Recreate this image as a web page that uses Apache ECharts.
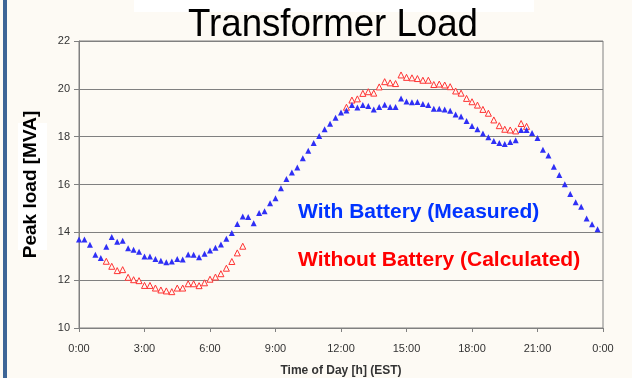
<!DOCTYPE html>
<html>
<head>
<meta charset="utf-8">
<title>Transformer Load</title>
<script src="https://cdn.jsdelivr.net/npm/echarts@6/dist/echarts.min.js"></script>
<style>
  html, body { margin: 0; padding: 0; background: #fdfaf4; }
  #chart { width: 632px; height: 378px; }
</style>
</head>
<body>
<div id="chart"></div>
<script>
// Quarter-hour samples over one day, 0:00 .. 23:45
const sampleStepHours = 0.25;

// Measured peak load with the battery in service [MVA]
const withBattery = [
  13.70, 13.70, 13.48, 13.06, 12.93, 13.40, 13.80, 13.61,
  13.65, 13.33, 13.27, 13.19, 12.99, 12.99, 12.88, 12.81,
  12.75, 12.78, 12.89, 12.86, 13.07, 13.06, 12.96, 13.10,
  13.24, 13.36, 13.49, 13.73, 13.97, 14.35, 14.66, 14.64,
  14.38, 14.81, 14.88, 15.22, 15.43, 15.84, 16.23, 16.50,
  16.71, 17.10, 17.41, 17.73, 18.03, 18.31, 18.54, 18.79,
  19.01, 19.09, 19.32, 19.22, 19.32, 19.28, 19.14, 19.24,
  19.33, 19.24, 19.24, 19.60, 19.47, 19.44, 19.45, 19.37,
  19.32, 19.17, 19.17, 19.14, 19.08, 18.93, 18.84, 18.65,
  18.45, 18.31, 18.13, 17.98, 17.82, 17.73, 17.69, 17.78,
  17.85, 18.28, 18.28, 18.15, 17.94, 17.45, 17.21, 16.74,
  16.40, 16.01, 15.60, 15.26, 15.07, 14.58, 14.34, 14.13
];

// Calculated load without the battery [MVA]; null where it coincides with the measured load
const withoutBattery = [
  null, null, null, null, null, 12.79, 12.58, 12.40,
  12.44, 12.12, 12.02, 11.98, 11.78, 11.78, 11.67, 11.59,
  11.55, 11.52, 11.67, 11.67, 11.85, 11.85, 11.77, 11.89,
  12.04, 12.13, 12.27, 12.50, 12.78, 13.14, 13.42, null,
  null, null, null, null, null, null, null, null,
  null, null, null, null, null, null, null, null,
  null, 19.23, 19.53, 19.58, 19.81, 19.88, 19.82, 20.08,
  20.30, 20.25, 20.22, 20.58, 20.48, 20.46, 20.43, 20.36,
  20.36, 20.18, 20.20, 20.16, 20.09, 19.91, 19.82, 19.60,
  19.46, 19.32, 19.14, 18.98, 18.70, 18.46, 18.31, 18.28,
  18.24, 18.55, 18.43, null, null, null, null, null,
  null, null, null, null, null, null, null, null
];

// Axis ticks
const hourTicks = [0, 3, 6, 9, 12, 15, 18, 21, 24];
const loadTicks = [10, 12, 14, 16, 18, 20, 22];

const pairs = values => values.map((v, i) => [i * sampleStepHours, v]);

const chart = echarts.init(document.getElementById('chart'), null, { renderer: 'canvas' });
const FONT = '"Liberation Sans", Arial, sans-serif';
const AXIS_GRAY = '#808080';

chart.setOption({
  backgroundColor: '#fdfaf4',
  animation: false,
  textStyle: { fontFamily: FONT },
  graphic: [
    { type: 'rect', shape: { x: 3, y: 0, width: 4, height: 378 }, style: { fill: '#3d6596' }, z: 0 },
    { type: 'rect', shape: { x: 134, y: 0, width: 400, height: 12 }, style: { fill: '#ffffff' }, z: 0 },
    { type: 'rect', shape: { x: 18, y: 123, width: 29, height: 127 }, style: { fill: '#ffffff' }, z: 0 },
    {
      type: 'text', x: 333, y: 25, z: 5, scaleX: 0.94,
      style: {
        text: 'Transformer Load', font: '39px ' + FONT, fill: '#000000',
        textAlign: 'center', textVerticalAlign: 'middle'
      }
    },
    {
      type: 'text', x: 298, y: 212, z: 5,
      style: {
        text: 'With Battery (Measured)', font: 'bold 21px ' + FONT, fill: '#0033ff',
        textAlign: 'left', textVerticalAlign: 'middle'
      }
    },
    {
      type: 'text', x: 298, y: 260, z: 5,
      style: {
        text: 'Without Battery (Calculated)', font: 'bold 21px ' + FONT, fill: '#ff0000',
        textAlign: 'left', textVerticalAlign: 'middle'
      }
    }
  ],
  grid: {
    left: 79, right: 29, top: 41, bottom: 50,
    containLabel: false, outerBoundsMode: 'none',
    show: true, borderColor: AXIS_GRAY, borderWidth: 1, backgroundColor: 'transparent'
  },
  xAxis: {
    type: 'value',
    min: hourTicks[0], max: hourTicks[hourTicks.length - 1], interval: 3,
    name: 'Time of Day [h] (EST)',
    nameLocation: 'middle', nameGap: 37,
    nameTextStyle: { fontFamily: FONT, fontWeight: 'bold', fontSize: 12, color: '#333333' },
    axisLine: { show: true, lineStyle: { color: AXIS_GRAY, width: 1 } },
    axisTick: { show: true, length: 4, lineStyle: { color: AXIS_GRAY } },
    axisLabel: {
      fontFamily: FONT, fontSize: 11, color: '#333333', margin: 15,
      formatter: v => (v % 24) + ':00'
    },
    splitLine: { show: false }
  },
  yAxis: {
    type: 'value',
    min: loadTicks[0], max: loadTicks[loadTicks.length - 1], interval: 2,
    name: 'Peak load [MVA]',
    nameLocation: 'middle', nameGap: 39, nameRotate: 90,
    nameTextStyle: { fontFamily: FONT, fontWeight: 'bold', fontSize: 19, color: '#000000' },
    axisLine: { show: true, lineStyle: { color: AXIS_GRAY, width: 1 } },
    axisTick: { show: true, length: 5, lineStyle: { color: AXIS_GRAY } },
    axisLabel: { fontFamily: FONT, fontSize: 11, color: '#333333', margin: 9 },
    splitLine: { show: true, lineStyle: { color: AXIS_GRAY, width: 1 } }
  },
  series: [
    {
      name: 'Without Battery (Calculated)',
      type: 'scatter',
      data: pairs(withoutBattery),
      symbol: 'triangle',
      symbolSize: [6, 6],
      itemStyle: { color: '#fdfaf4', borderColor: '#ff3333', borderWidth: 1, opacity: 1 },
      z: 3
    },
    {
      name: 'With Battery (Measured)',
      type: 'scatter',
      data: pairs(withBattery),
      symbol: 'triangle',
      symbolSize: [6, 6],
      itemStyle: { color: '#2f2ff5', opacity: 1 },
      z: 4
    }
  ]
});
</script>
</body>
</html>
